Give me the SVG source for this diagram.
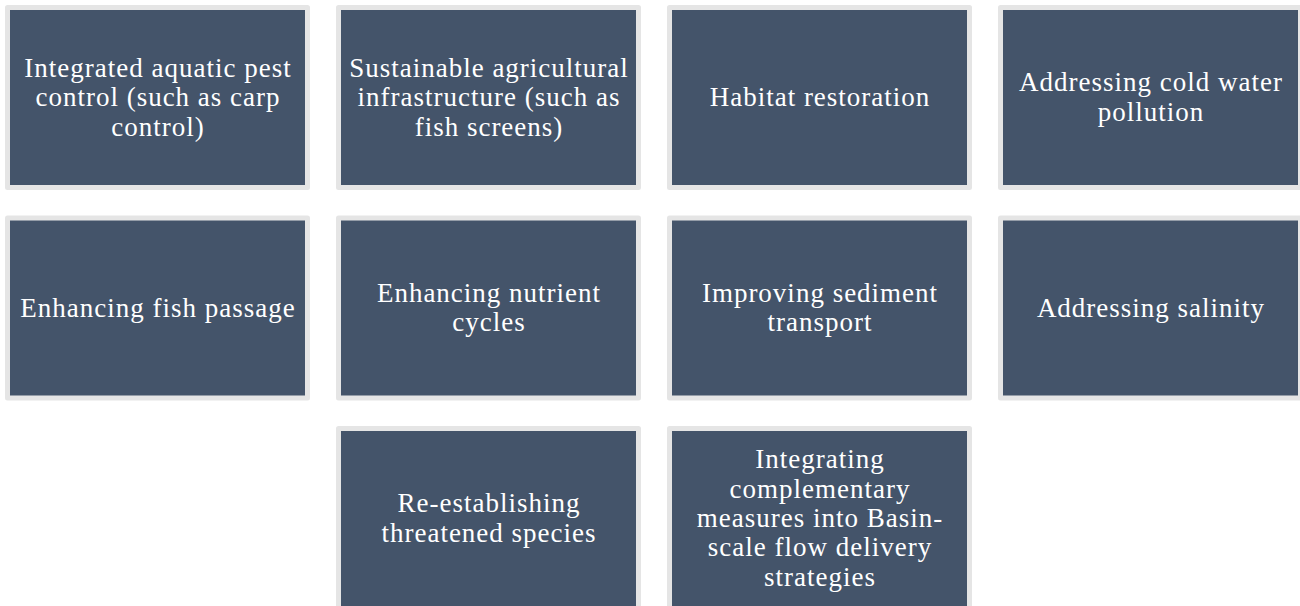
<svg xmlns="http://www.w3.org/2000/svg" width="1300" height="606" viewBox="0 0 1300 606">
<style>
.box{fill:#44546a;stroke:#e5e5e5;stroke-width:5;stroke-linejoin:round}
.t{font-family:"Liberation Serif","Times New Roman",serif;font-size:27px;letter-spacing:1px;fill:#ffffff;text-anchor:middle}
</style>
<rect width="1300" height="606" fill="#ffffff"/>
<g id="connectors"/>
<g id="n1"><rect class="box" x="7.5" y="7.5" width="300" height="180"/>
<text class="t"><tspan x="158" y="77">Integrated aquatic pest</tspan><tspan x="158" y="106.3">control (such as carp</tspan><tspan x="158" y="135.6">control)</tspan></text></g>
<g id="n2"><rect class="box" x="338.5" y="7.5" width="300" height="180"/>
<text class="t"><tspan x="489" y="77">Sustainable agricultural</tspan><tspan x="489" y="106.3">infrastructure (such as</tspan><tspan x="489" y="135.6">fish screens)</tspan></text></g>
<g id="n3"><rect class="box" x="669.5" y="7.5" width="300" height="180"/>
<text class="t"><tspan x="820" y="106">Habitat restoration</tspan></text></g>
<g id="n4"><rect class="box" x="1000.5" y="7.5" width="300" height="180"/>
<text class="t"><tspan x="1151" y="91.4">Addressing cold water</tspan><tspan x="1151" y="120.7">pollution</tspan></text></g>
<g id="n5"><rect class="box" x="7.5" y="218" width="300" height="180"/>
<text class="t"><tspan x="158" y="316.5">Enhancing fish passage</tspan></text></g>
<g id="n6"><rect class="box" x="338.5" y="218" width="300" height="180"/>
<text class="t"><tspan x="489" y="301.5">Enhancing nutrient</tspan><tspan x="489" y="330.8">cycles</tspan></text></g>
<g id="n7"><rect class="box" x="669.5" y="218" width="300" height="180"/>
<text class="t"><tspan x="820" y="301.5">Improving sediment</tspan><tspan x="820" y="330.8">transport</tspan></text></g>
<g id="n8"><rect class="box" x="1000.5" y="218" width="300" height="180"/>
<text class="t"><tspan x="1151" y="316.5">Addressing salinity</tspan></text></g>
<g id="n9"><rect class="box" x="338.5" y="428.5" width="300" height="180"/>
<text class="t"><tspan x="489" y="512.4">Re-establishing</tspan><tspan x="489" y="541.7">threatened species</tspan></text></g>
<g id="n10"><rect class="box" x="669.5" y="428.5" width="300" height="180"/>
<text class="t"><tspan x="820" y="468.4">Integrating</tspan><tspan x="820" y="497.7">complementary</tspan><tspan x="820" y="527">measures into Basin-</tspan><tspan x="820" y="556.3">scale flow delivery</tspan><tspan x="820" y="585.6">strategies</tspan></text></g>
</svg>
